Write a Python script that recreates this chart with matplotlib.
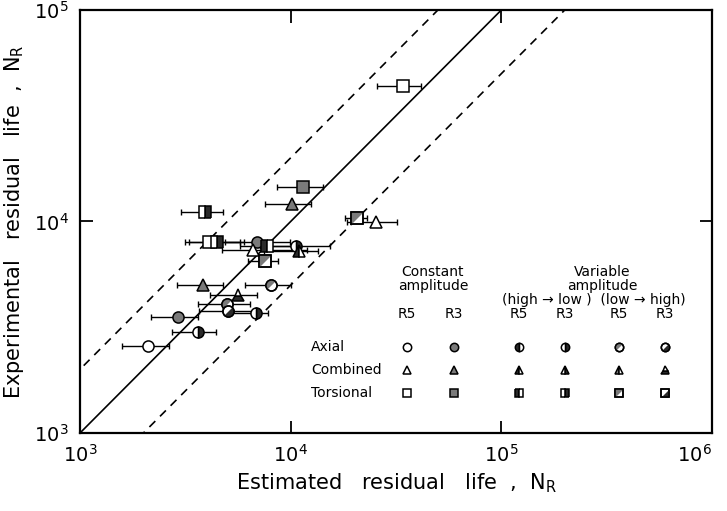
import numpy as np
import matplotlib.pyplot as plt
from matplotlib.path import Path

# estimated life (x), experimental life (y), error bar limits on x, marker kind
est = [33960, 11400, 10110, 3910, 20550, 25280, 4090, 4460, 6900, 7690, 6600,
       10560, 10910, 7530, 3830, 8040, 5610, 4970, 5030, 6820, 2910, 3620, 2100]
exp_ = [43750, 14560, 12100, 11090, 10390, 9950, 8000, 8000, 8000, 7660, 7330,
        7660, 7250, 6510, 5010, 5010, 4490, 4070, 3780, 3690, 3540, 3000, 2580]
err_lo = [25560, 8590, 7530, 3010, 18030, 18420, 3140, 3300, 4860, 5730, 4710,
          7130, 7500, 6250, 2880, 6050, 4130, 3620, 3690, 5140, 2170, 2730, 1580]
err_hi = [41780, 14190, 12440, 4760, 22910, 32140, 5730, 6000, 9890, 11040, 12000,
          15300, 13500, 8670, 4760, 10000, 6900, 6390, 6730, 7780, 3620, 4410, 2640]
kind = ['tor_c5', 'tor_c3', 'com_c3', 'tor_hl3', 'tor_lh5', 'com_c5', 'tor_c5',
        'tor_hl3', 'ax_c3', 'tor_hl5', 'com_c5', 'ax_hl3', 'com_hl5', 'tor_lh5',
        'com_c3', 'ax_lh5', 'com_lh3', 'ax_lh5', 'ax_lh3', 'ax_hl3', 'ax_c3',
        'ax_hl3', 'ax_c5']

load_names = ['Axial', 'Combined', 'Torsional']
col_names = ['R5', 'R3', 'R5', 'R3', 'R5', 'R3']
col_keys = ['c5', 'c3', 'hl5', 'hl3', 'lh5', 'lh3']

GRAY = '#7a7a7a'
DARK = '#2a2a2a'
shape = {'ax': 'o', 'com': '^', 'tor': 's'}

# diagonal half shapes for the low->high groups
t = np.linspace(np.pi / 4, 5 * np.pi / 4, 40)
half_circ_ul = Path(np.column_stack([np.cos(t), np.sin(t)]).tolist() + [[0, 0]])
half_circ_lr = Path(np.column_stack([np.cos(t + np.pi), np.sin(t + np.pi)]).tolist() + [[0, 0]])
half_sq_ul = Path([[-1, -1], [-1, 1], [1, 1], [-1, -1]])
half_sq_lr = Path([[-1, -1], [1, -1], [1, 1], [-1, -1]])


def draw_marker(ax, x, y, k, ms, **kw):
    load, grp = k.split('_')
    m = shape[load]
    base = dict(ms=ms, mec='black', mew=1.1, ls='none')
    if grp == 'c5':
        ax.plot(x, y, marker=m, mfc='white', **base, **kw)
    elif grp == 'c3':
        ax.plot(x, y, marker=m, mfc=GRAY, **base, **kw)
    elif grp in ('hl5', 'hl3'):
        fs = 'left' if grp == 'hl5' else 'right'
        ax.plot(x, y, marker=m, fillstyle=fs, mfc=DARK, mfcalt='white', **base, **kw)
    else:
        if m == '^':
            fs = 'left' if grp == 'lh5' else 'bottom'
            ax.plot(x, y, marker=m, fillstyle=fs, mfc=GRAY if grp == 'lh5' else DARK,
                    mfcalt='white', **base, **kw)
            return
        if m == 'o':
            hp = half_circ_ul if grp == 'lh5' else half_circ_lr
        else:
            hp = half_sq_ul if grp == 'lh5' else half_sq_lr
        z = kw.pop('zorder', 3)
        ax.plot(x, y, marker=m, mfc='white', zorder=z, **base, **kw)
        ax.plot(x, y, marker=hp, ms=ms, mfc=GRAY if grp == 'lh5' else DARK,
                mec='none', mew=0, ls='none', zorder=z, **kw)
        ax.plot(x, y, marker=m, mfc='none', zorder=z, **base, **kw)


fig = plt.figure(figsize=(7.27, 5.11), dpi=100)
ax = fig.add_axes([80 / 727, 78 / 511, 632 / 727, 423 / 511])
ax.set_xscale('log')
ax.set_yscale('log')
ax.set_xlim(1e3, 1e6)
ax.set_ylim(1e3, 1e5)

xx = np.array([1e2, 1e6])
ax.plot(xx, xx, color='black', lw=1.2)
ax.plot(xx, 2 * xx, color='black', lw=1.2, ls=(0, (5, 4)))
ax.plot(xx, xx / 2, color='black', lw=1.2, ls=(0, (5, 4)))

for x, y, lo, hi, k in zip(est, exp_, err_lo, err_hi, kind):
    ax.errorbar(x, y, xerr=[[x - lo], [hi - x]], fmt='none', ecolor='black',
                elinewidth=1.0, capsize=2.5, capthick=1.0, zorder=2)
    draw_marker(ax, x, y, k, 8, zorder=3)


# legend table (axes fraction from pixel positions)
def fx(px):
    return (px - 80) / 632


def fy(py):
    return (433 - py) / 423


tf = ax.transAxes
fs = 10
ax.text(fx(433), fy(279), 'Constant\namplitude', transform=tf, ha='center',
        va='center', fontsize=fs, linespacing=0.95)
ax.text(fx(602), fy(279), 'Variable\namplitude', transform=tf, ha='center',
        va='center', fontsize=fs, linespacing=0.95)
ax.text(fx(594), fy(300), '(high \u2192 low )  (low \u2192 high)', transform=tf,
        ha='center', va='center', fontsize=fs)
col_px = [407, 454, 519, 565, 619, 665]
row_py = [347, 370, 393]
for cx, name in zip(col_px, col_names):
    ax.text(fx(cx), fy(314), name, transform=tf, ha='center', va='center', fontsize=fs)
for ry, name, load in zip(row_py, load_names, ['ax', 'com', 'tor']):
    ax.text(fx(311), fy(ry), name, transform=tf, ha='left', va='center', fontsize=fs)
    for cx, ck in zip(col_px, col_keys):
        draw_marker(ax, fx(cx), fy(ry), load + '_' + ck, 6, transform=tf,
                    clip_on=False)

ax.xaxis.set_major_locator(plt.FixedLocator([1e3, 1e4, 1e5, 1e6]))
ax.yaxis.set_major_locator(plt.FixedLocator([1e3, 1e4, 1e5]))
ax.xaxis.set_minor_locator(plt.NullLocator())
ax.yaxis.set_minor_locator(plt.NullLocator())
ax.set_xticklabels([r'$10^3$', r'$10^4$', r'$10^5$', r'$10^6$'])
ax.set_yticklabels([r'$10^3$', r'$10^4$', r'$10^5$'])
ax.tick_params(direction='in', length=9, width=1.3, top=True, right=True,
               labelsize=14, pad=8)
xl = ax.get_xticklabels()
xl[-1].set_horizontalalignment('right')
for s in ax.spines.values():
    s.set_linewidth(1.6)

ax.set_xlabel('Estimated   residual   life  ,  N$_\\mathregular{R}$', fontsize=15, labelpad=4)
ax.set_ylabel('Experimental   residual   life  ,  N$_\\mathregular{R}$', fontsize=15, labelpad=6)

fig.savefig('out.png', dpi=100)
